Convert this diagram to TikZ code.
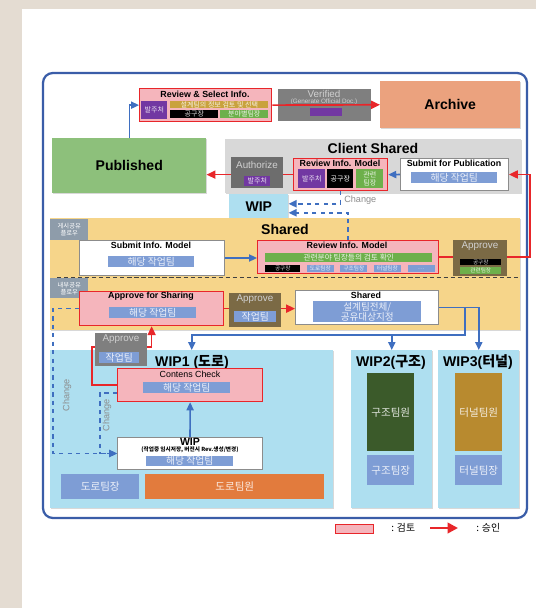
\documentclass[tikz,border=0pt]{standalone}
\usepackage{fontspec}
\setmainfont{Liberation Sans}
\newfontfamily\kr{Noto Sans CJK KR}
\usetikzlibrary{arrows.meta, positioning, calc, shadows}
\definecolor{cbeige}{HTML}{E4DCD2}
\definecolor{cframe}{HTML}{3A5DA8}
\definecolor{cred}{HTML}{E8262A}
\definecolor{cpink}{HTML}{F5B5BC}
\definecolor{cblue}{HTML}{3F6FC0}
\definecolor{cbbox}{HTML}{7E9DD5}
\definecolor{cpurple}{HTML}{7238A2}
\definecolor{cgold}{HTML}{C9A23E}
\definecolor{cgreen}{HTML}{6DB04B}
\definecolor{cpub}{HTML}{8DC07B}
\definecolor{carch}{HTML}{EBA27E}
\definecolor{cvgrey}{HTML}{7F7F7F}
\definecolor{cdgrey}{HTML}{6D6D6D}
\definecolor{clgrey}{HTML}{D8D8D8}
\definecolor{clblue}{HTML}{AEDFF0}
\definecolor{cyellow}{HTML}{F6D58A}
\definecolor{ctag}{HTML}{8E9CAA}
\definecolor{colive}{HTML}{7B6A45}
\definecolor{corange}{HTML}{E27B3D}
\definecolor{cdkgreen}{HTML}{3B5A2A}
\definecolor{ctunnel}{HTML}{B88A2F}
\tikzset{
  every picture/.style={x=0.25mm, y=-0.25mm},
  sz/.style 2 args={minimum width=#1*0.25mm, minimum height=#2*0.25mm, anchor=north west, inner sep=0pt},
  area/.style={fill=#1, drop shadow={shadow xshift=0.8pt, shadow yshift=-0.8pt, opacity=0.3}},
  rev/.style={draw=cred, fill=cpink, line width=0.9pt},
  wbox/.style={draw=black!45, fill=white, line width=0.7pt},
  blk/.style={fill=#1, text=#1!15!white, align=center, font=\kr\fontsize{5}{5.5}\selectfont},
  team/.style={blk=cbbox, font=\kr\fontsize{7}{7}\selectfont},
  cell/.style={blk=#1, font=\kr\fontsize{7.5}{8}\selectfont},
  tiny/.style={blk=#1, font=\kr\fontsize{4}{4}\selectfont},
  tag/.style={blk=ctag, text=white, font=\kr\fontsize{4.5}{5}\selectfont},
  ttl/.style={font=\bfseries\fontsize{6.3}{7}\selectfont, inner sep=0pt},
  head/.style={font=\bfseries\fontsize{10}{11}\selectfont, inner sep=0pt},
  pale/.style={font=\fontsize{7}{7}\selectfont, text=white!82!black, inner sep=0pt},
  redarr/.style={-{Triangle[length=2.2mm, width=2mm]}, draw=cred, line width=1.2pt},
  bluearr/.style={-{Triangle[length=2mm, width=1.8mm]}, draw=cblue, line width=1.1pt},
  chg/.style={bluearr, dashed},
  chglabel/.style={font=\fontsize{6.5}{6.5}\selectfont, text=black!45, inner sep=0pt},
}
\begin{document}
\begin{tikzpicture}
  \useasboundingbox (0,0) rectangle (536,608);
  \fill[cbeige] (0,0) rectangle (536,608);
  \fill[white] (22,9) rectangle (536,608);
  \draw[cframe, line width=1.6pt, rounded corners=7pt] (43,73) rectangle (527,518);

  % top row
  \node[rev, sz={132}{33}] (rsel) at (139,88) {};
  \node[ttl] (rselT) at (205,94.5) {Review \& Select Info.};
  \node[blk=cpurple, sz={26}{18}] (p1) at (141,101) {발주처};
  \node[blk=cgold, sz={98}{7}] (g1) at (170,101) {설계팀의 정보 검토 및 선택};
  \node[blk=black, sz={48}{8}] (k1) at (170,110) {공구장};
  \node[blk=cgreen, sz={48}{8}] (gr1) at (220,110) {분야별팀장};
  \node[fill=cvgrey, sz={93}{32}] (ver) at (278,89) {};
  \node[pale] (verT) at (324,94) {Verified};
  \node[pale, font=\fontsize{4.5}{5}\selectfont] (verS) at (324,102) {(Generate Official Doc.)};
  \node[fill=cpurple, sz={32}{8}] (verP) at (310,108) {};
  \node[area=carch, sz={140}{47}, head] (arch) at (380,81) {Archive};
  \draw[redarr] (rsel.east) -- (arch.west);
  \node[area=cpub, sz={154}{55}, head] (pub) at (52,138) {Published};
  \draw[bluearr] (pub.north) |- (rsel.west);

  % client shared
  \node[area=clgrey, sz={296}{54}] (cs) at (225,139) {};
  \node[head] (csT) at (373,148) {Client Shared};
  \node[rev, sz={94}{32}] (crev) at (293,158) {};
  \node[ttl] (crevT) at (340,163) {Review Info. Model};
  \node[blk=cpurple, sz={27}{19}] (p3) at (298,169) {발주처};
  \node[blk=black, sz={26}{19}, text=white] (k3) at (327,169) {공구장};
  \node[blk=cgreen, sz={27}{19}] (gr3) at (356,169) {관련\\팀장};
  \draw[redarr] (crev.west) -- (crev.west -| pub.east);
  \node[fill=cdgrey, sz={52}{31}] (auth) at (231,157) {};
  \node[pale] (authT) at (257,165) {Authorize};
  \node[blk=cpurple, sz={26}{10}] (p2) at (244,176) {발주처};
  \node[wbox, sz={108}{32}] (spub) at (400,158) {};
  \node[ttl] (spubT) at (454,163.5) {Submit for Publication};
  \node[team, sz={86}{11}] (b1) at (411,172) {해당 작업팀};
  \draw[bluearr] (spub.west) -- (crev.east);
  \node[area=clblue, sz={59}{25}, head] (wip0) at (229,194) {WIP};

  % shared
  \node[area=cyellow, sz={470}{112}] (shd) at (50,218) {};
  \node[tag, sz={38}{21}] (tag1) at (50,219) {게시공유\\플로우};
  \node[head] (shdT) at (285,229) {Shared};
  \node[wbox, sz={145}{35}] (sinf) at (79,240) {};
  \node[ttl] (sinfT) at (151,245) {Submit Info. Model};
  \node[team, sz={86}{11}] (b2) at (108,256) {해당 작업팀};
  \node[rev, sz={181}{33}] (srev) at (257,240) {};
  \node[ttl] (srevT) at (347,245) {Review Info. Model};
  \node[blk=cgreen, sz={167}{9}, font=\kr\fontsize{5.5}{6}\selectfont] (gr4) at (265,253) {관련분야 팀장들의 검토 확인};
  \node[tiny=black, sz={35}{7}] (r1) at (265,265) {공구장};
  \foreach \w [count=\i from 2, remember=\i as \j (initially 1)] in {도로팀장, 구조팀장, 터널팀장, {\dots}}
    \node[tiny=cbbox, sz={27}{7}, right=1.5mm of r\j] (r\i) {\w};
  \draw[bluearr] (sinf.east) -- (sinf.east -| srev.west);
  \coordinate (rturn) at (530,0);
  \draw[redarr] (srev.east) -- (srev.east -| rturn) |- (spub.east);
  \node[fill=colive, sz={54}{36}] (apv1) at (453,240) {};
  \node[pale] (apv1T) at (480,246) {Approve};
  \node[tiny=black, sz={41}{6}] (k5) at (460,259) {공구장};
  \node[tiny=cgreen, sz={41}{7}] (gr5) at (460,267) {관련팀장};
  \draw[chg] (crev.south) |- ($(wip0.east)+(0,-3)$);
  \draw[chg] (srev.north) |- ($(wip0.east)+(0,6)$);
  \node[chglabel, anchor=west] (chgT) at (344,200) {Change};

  \draw[densely dashed, black!75, line width=0.7pt] (57,277) -- (520,277);
  \node[tag, sz={38}{20}] (tag2) at (50,278) {내부공유\\플로우};
  \node[rev, sz={144}{34}] (afs) at (79,291) {};
  \node[ttl] (afsT) at (151,296) {Approve for Sharing};
  \node[team, sz={87}{11}] (b3) at (109,307) {해당 작업팀};
  \node[wbox, sz={143}{34}] (shin) at (295,290) {};
  \node[ttl] (shinT) at (366,295) {Shared};
  \node[team, sz={108}{21}, font=\kr\fontsize{6.8}{7.6}\selectfont] (b4) at (313,301) {설계팀전체/\\공유대상지정};
  \draw[redarr] (afs.east) -- (afs.east -| shin.west);
  \node[fill=colive, sz={52}{34}] (apv2) at (229,293) {};
  \node[pale] (apv2T) at (255,299) {Approve};
  \node[team, sz={42}{11}] (b5) at (234,311) {작업팀};

  % wip areas
  \node[area=clblue, sz={283}{158}] (w1) at (50,350) {};
  \node[area=clblue, sz={81}{158}] (w2) at (351,350) {};
  \node[area=clblue, sz={81}{158}] (w3) at (438,350) {};
  \node[head] (w1T) at (192,362) {WIP1 ({\kr 도로})};
  \node[head] (w2T) at (391,362) {WIP2({\kr 구조})};
  \node[head] (w3T) at (478,362) {WIP3({\kr 터널})};
  \coordinate (split) at (465,335);
  \draw[bluearr] (shin.east) -| (w3.north);
  \draw[bluearr] (shin.east -| split) |- (split -| w1.north) -- (w1.north);
  \draw[bluearr] (split -| w2.north) -- (w2.north);

  \node[rev, sz={145}{33}] (cc) at (117,368) {};
  \node[ttl, font=\fontsize{6.3}{7}\selectfont] (ccT) at (190,374) {Contens Check};
  \node[team, sz={87}{11}] (b6) at (143,382) {해당 작업팀};
  \node[wbox, sz={145}{32}] (wi) at (117,437) {};
  \node[ttl, font=\bfseries\fontsize{7.5}{8}\selectfont] (wiT) at (190,441.5) {WIP};
  \node[ttl, font=\kr\bfseries\fontsize{4}{4.5}\selectfont] (wiS) at (190,450) {(작업중 임시저장, 버전시 Rev.생성/변경)};
  \node[team, sz={87}{10}] (b7) at (146,455.5) {해당 작업팀};
  \draw[bluearr] (wi.north) -- (cc.south);
  \coordinate (c1) at (100,0);
  \coordinate (c2) at (53,0);
  \draw[chg] ($(cc.west)+(0,8)$) -| (c1 |- wi.west) -- (wi.west);
  \draw[chg] (afs.west) -| (c2 |- wi.west) -- (wi.west);
  \node[chglabel, rotate=90] (chgT2) at (107,415) {Change};
  \node[chglabel, rotate=90] (chgT3) at (67,395) {Change};
  \coordinate (c3) at (92,347);
  \draw[redarr] (cc.west) -| (c3) -| (afs.south);
  \node[fill=cvgrey, sz={52}{33}] (apv3) at (95,333) {};
  \node[pale] (apv3T) at (121,339) {Approve};
  \node[team, sz={40}{11}] (b8) at (99,352) {작업팀};

  \node[cell=cbbox, sz={78}{25}] (dl) at (61,474) {도로팀장};
  \node[cell=corange, sz={179}{25}] (dm) at (145,474) {도로팀원};
  \node[cell=cdkgreen, sz={47}{78}] (sm) at (367,373) {구조팀원};
  \node[cell=cbbox, sz={47}{30}] (sl) at (367,455) {구조팀장};
  \node[cell=ctunnel, sz={47}{78}] (tm) at (455,373) {터널팀원};
  \node[cell=cbbox, sz={47}{30}] (tl) at (455,455) {터널팀장};

  % legend
  \node[rev, sz={38}{9}] (lgbox) at (335,524) {};
  \node[anchor=west, font=\kr\fontsize{7}{7}\selectfont, inner sep=0pt] (lgT1) at (391,528) {: 검토};
  \coordinate (lga) at (430,528);
  \coordinate (lgb) at (458,528);
  \draw[redarr, line width=2pt, -{Triangle[length=2.6mm, width=2.6mm]}] (lga) -- (lgb);
  \node[anchor=west, font=\kr\fontsize{7}{7}\selectfont, inner sep=0pt] (lgT2) at (476,528) {: 승인};
\end{tikzpicture}
\end{document}
